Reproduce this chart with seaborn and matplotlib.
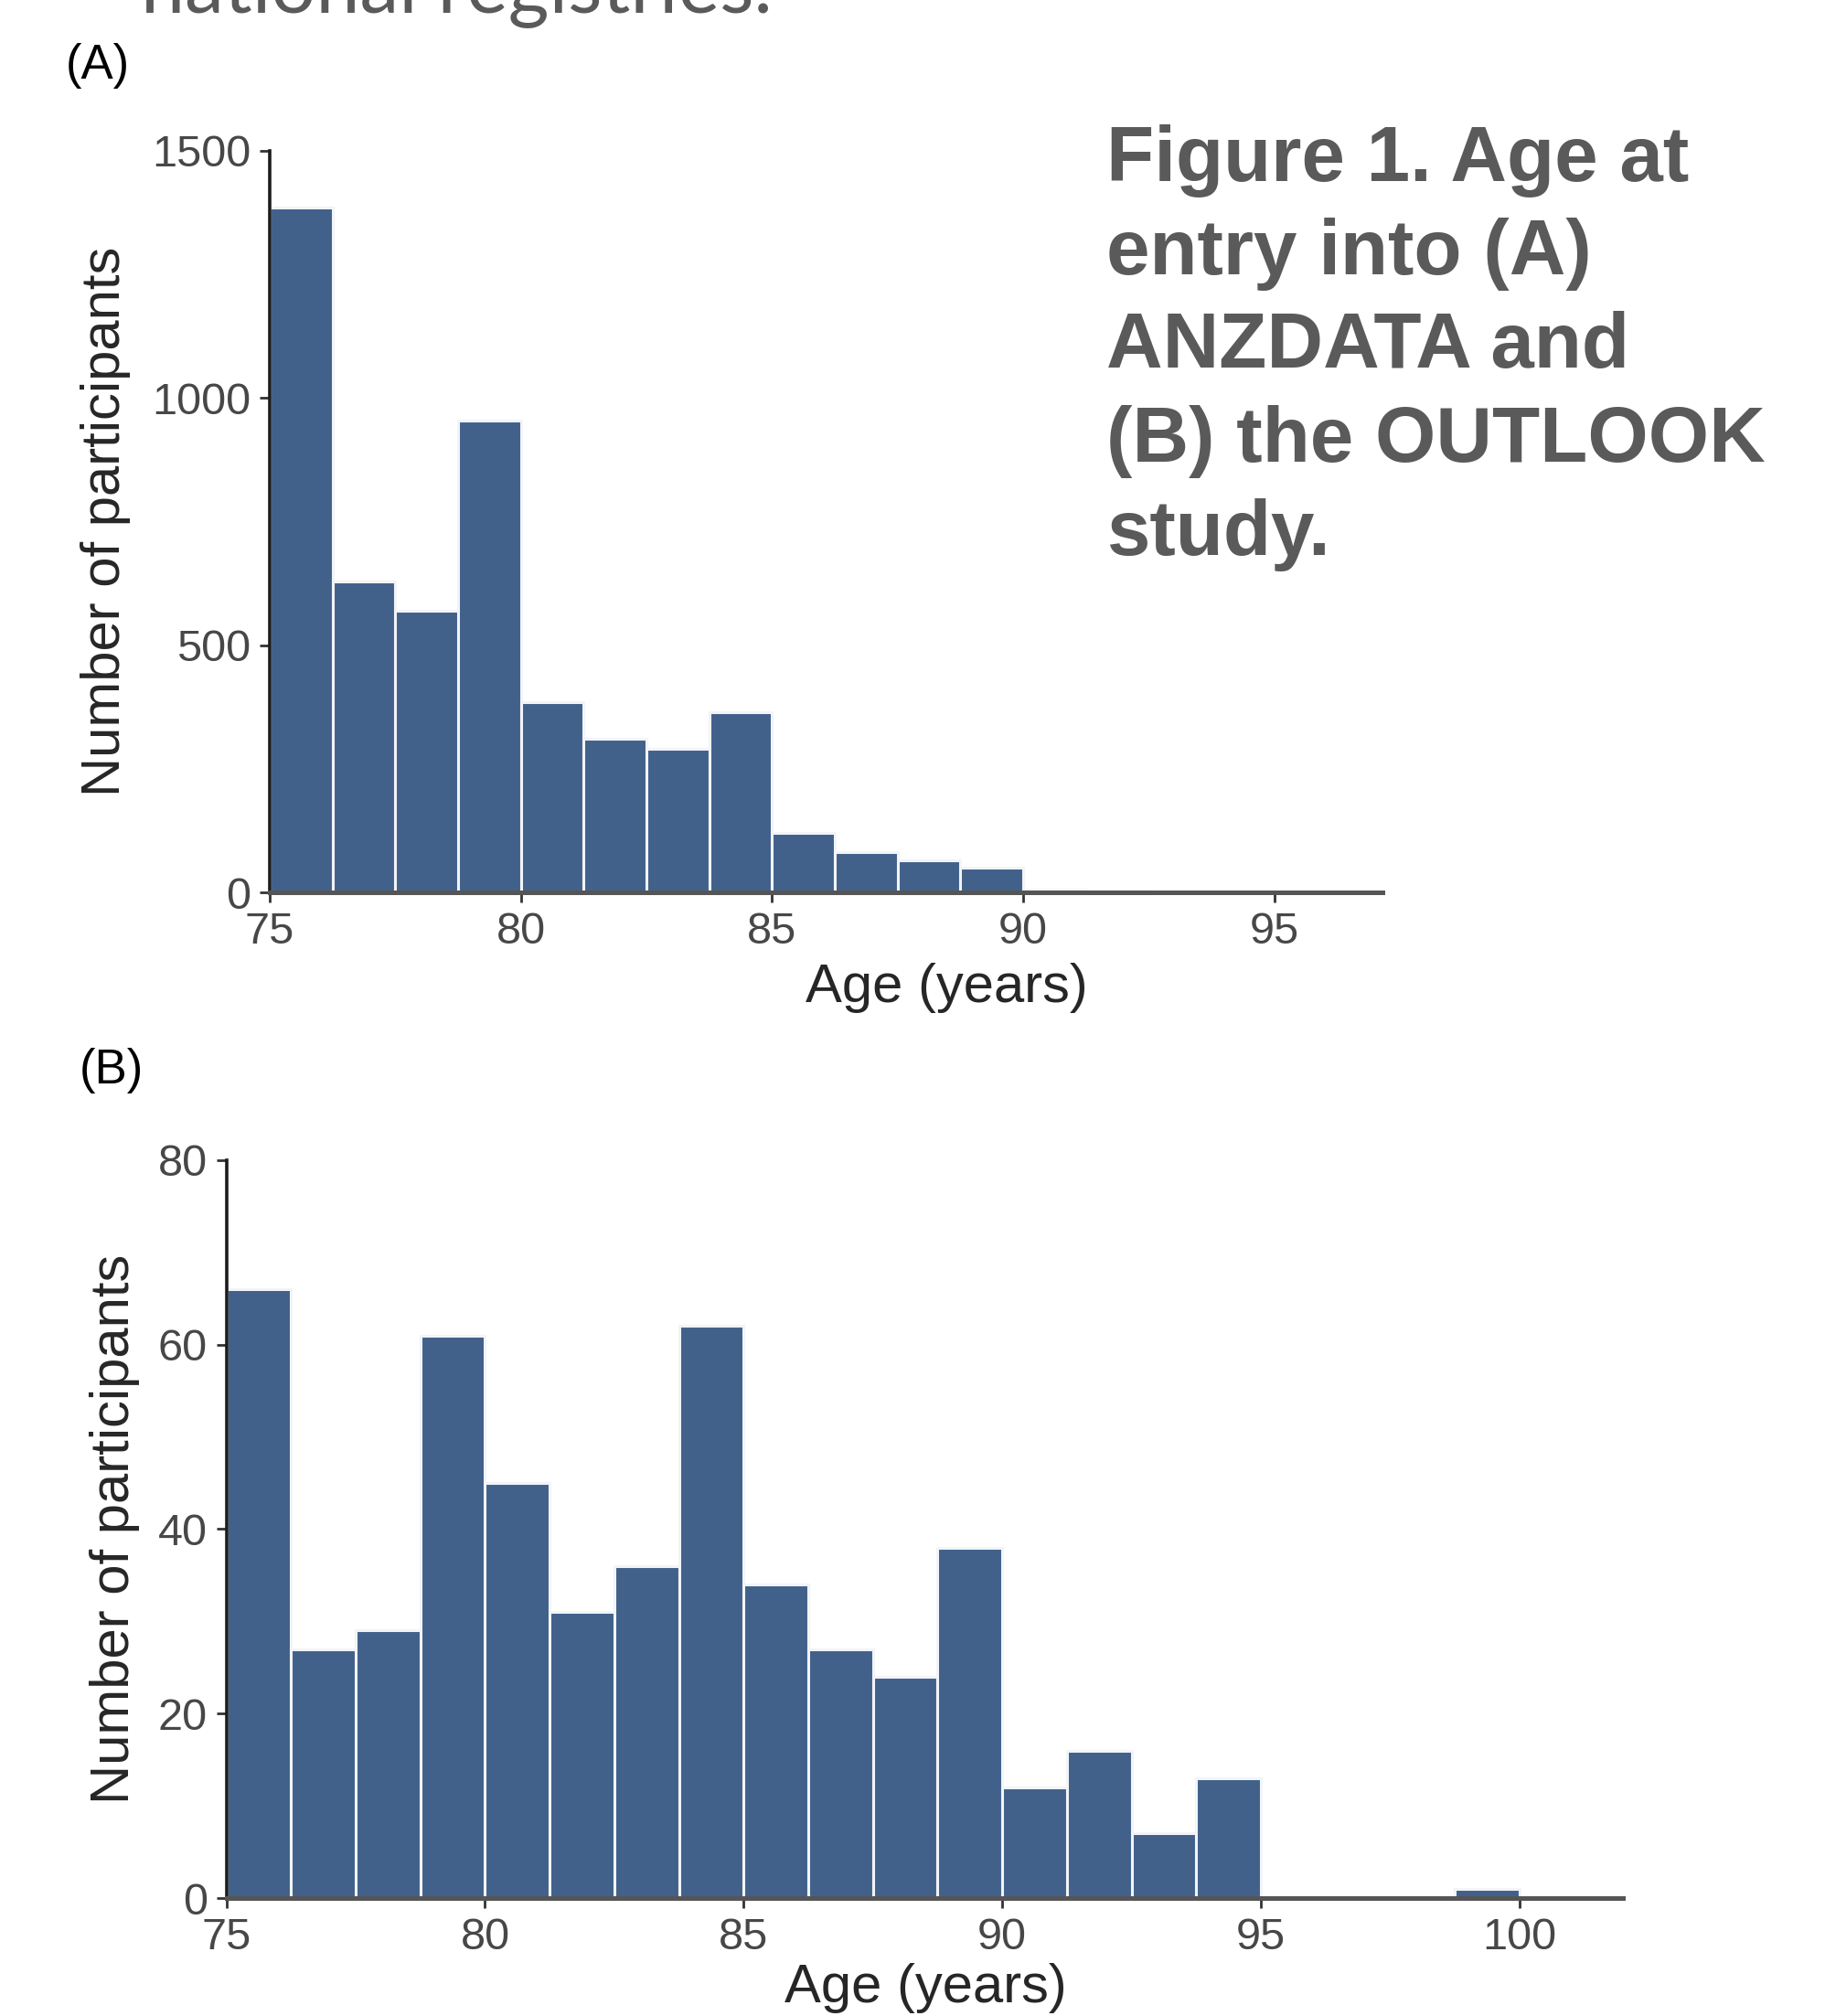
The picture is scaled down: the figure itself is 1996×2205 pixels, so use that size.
import numpy as np
import pandas as pd
import matplotlib
matplotlib.use("Agg")
import matplotlib.pyplot as plt
import seaborn as sns

# ---------------- data ----------------
bin_start = 75
bin_width = 1.25
# (A) ANZDATA: participants per 1.25-year age bin starting at 75
a_counts = [1385, 628, 570, 953, 384, 311, 290, 365, 120, 82, 64, 50, 5, 2]
# (B) OUTLOOK study
b_counts = [66, 27, 29, 61, 45, 31, 36, 62, 34, 27, 24, 38, 12, 16, 7, 13, 0, 0, 0, 1]
a_xticks = [75, 80, 85, 90, 95]
a_yticks = [0, 500, 1000, 1500]
b_xticks = [75, 80, 85, 90, 95, 100]
b_yticks = [0, 20, 40, 60, 80]
x_label = "Age (years)"
y_label = "Number of participants"
caption_lines = ["Figure 1. Age at", "entry into (A)", "ANZDATA and", "(B) the OUTLOOK", "study."]
top_text = "national registries."

# ---------------- style ----------------
sns.set_style("ticks")
plt.rcParams["font.family"] = ["Liberation Sans", "DejaVu Sans"]

W, H = 1996, 2205
fig = plt.figure(figsize=(W / 100, H / 100), dpi=100)

BAR = "#41618a"
TXT = "#5a5a5a"


def fx(px):
    return px / W


def fy(py):
    return 1 - py / H


def draw_panel(ax, counts, xlim, ylim, xticks, yticks, ylab_x, xlab_pos):
    n = len(counts)
    edges = [float(bin_start + bin_width * i) for i in range(n + 1)]
    centers = [e + bin_width / 2 for e in edges[:-1]]
    df = pd.DataFrame({"age": centers, "n": counts})
    sns.histplot(data=df, x="age", weights="n", bins=edges, ax=ax,
                 color=BAR, edgecolor="#f2f4f8", linewidth=2.2, alpha=1)
    ax.set_xlim(*xlim)
    ax.set_ylim(*ylim)
    ax.set_xticks(xticks)
    ax.set_yticks(yticks)
    for s in ("top", "right"):
        ax.spines[s].set_visible(False)
    ax.spines["left"].set_color("#1c1c1c")
    ax.spines["left"].set_linewidth(2.6)
    ax.spines["bottom"].set_color("#555555")
    ax.spines["bottom"].set_linewidth(3.6)
    ax.tick_params(axis="both", length=8, width=2, color="#333333",
                   labelsize=35, labelcolor="#474747", pad=7)
    ax.set_ylabel(y_label, fontsize=43, color="#262626")
    ax.set_xlabel(x_label, fontsize=43, color="#262626")
    ax.yaxis.set_label_coords(ylab_x, 0.5)
    ax.xaxis.set_label_coords(*xlab_pos)


# Panel A geometry (pixels)
axA = fig.add_axes([fx(295), fy(976), fx(1512 - 295), (976 - 164.6) / H])
draw_panel(axA, a_counts, (75, 97.15), (0, 1500), a_xticks, a_yticks,
           -0.125, (0.608, -0.095))

# Panel B geometry
axB = fig.add_axes([fx(247.6), fy(2076), fx(1775 - 247.6), (2076 - 1268.8) / H])
draw_panel(axB, b_counts, (75, 102.0), (0, 80), b_xticks, b_yticks,
           -0.062, (0.501, -0.088))

# Panel letters
fig.text(fx(72), fy(72), "(A)", fontsize=38, color="black", va="center", ha="left")
fig.text(fx(87), fy(1171), "(B)", fontsize=38, color="black", va="center", ha="left")

# Caption
baselines = [198, 300, 402, 505, 607]
for line, b in zip(caption_lines, baselines):
    fig.text(fx(1210), fy(b), line, fontsize=61.5, fontweight="bold", color=TXT,
             va="baseline", ha="left")

# Clipped text at very top
fig.text(fx(154), fy(13), top_text, fontsize=62, color=TXT, va="baseline", ha="left",
         fontweight="normal", family=["Lato", "Liberation Sans", "DejaVu Sans"])

fig.savefig("out.png", dpi=100, facecolor="white")
